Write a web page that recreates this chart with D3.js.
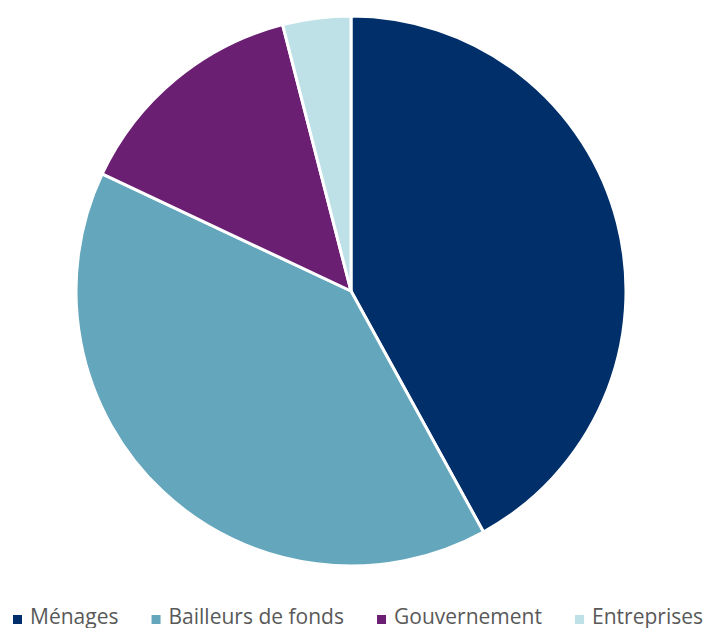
<!DOCTYPE html>
<html>
<head>
<meta charset="utf-8">
<script src="https://cdn.jsdelivr.net/npm/d3@7"></script>
<style>
  body { margin: 0; background: #fff; }
  svg { display: block; }
</style>
</head>
<body>
<script>
var categories = ["Ménages", "Bailleurs de fonds", "Gouvernement", "Entreprises"];
var shares = [42, 40, 14, 4];
var colors = ["#002f6a", "#64a6bc", "#6a1f72", "#bde1e7"];

var width = 704;
var height = 628;
var radius = 275;

var svg = d3.select("body").append("svg")
    .attr("width", width)
    .attr("height", height);

var data = categories.map((c, i) => ({name: c, value: shares[i], color: colors[i]}));

var pie = d3.pie()
    .value(d => d.value)
    .sort(null);

var arc = d3.arc()
    .innerRadius(0)
    .outerRadius(radius);

var g = svg.append("g")
    .attr("transform", `translate(351,291)`);

g.selectAll("path")
  .data(pie(data))
  .enter()
  .append("path")
    .attr("d", arc)
    .attr("fill", d => d.data.color)
    .attr("stroke", "#fff")
    .attr("stroke-width", 3)
    .attr("stroke-linejoin", "round");

// legend along the bottom edge, spread from x0 to x1
var legend = svg.append("g")
    .attr("font-family", "'Open Sans', sans-serif")
    .attr("font-size", 21)
    .attr("fill", "#595959");

var x0 = 13, x1 = 703, pad = 17;
var items = data.map(d => {
  var item = legend.append("g");
  item.append("rect")
      .attr("x", 0)
      .attr("y", 615)
      .attr("width", 9)
      .attr("height", 9)
      .attr("fill", d.color);
  var t = item.append("text")
      .attr("x", pad)
      .attr("y", 624)
      .text(d.name);
  return {item: item, w: pad + t.node().getComputedTextLength()};
});
var gap = (x1 - x0 - d3.sum(items, d => d.w)) / (items.length - 1);
var x = x0;
items.forEach(d => {
  d.item.attr("transform", `translate(${x},0)`);
  x += d.w + gap;
});
</script>
</body>
</html>
